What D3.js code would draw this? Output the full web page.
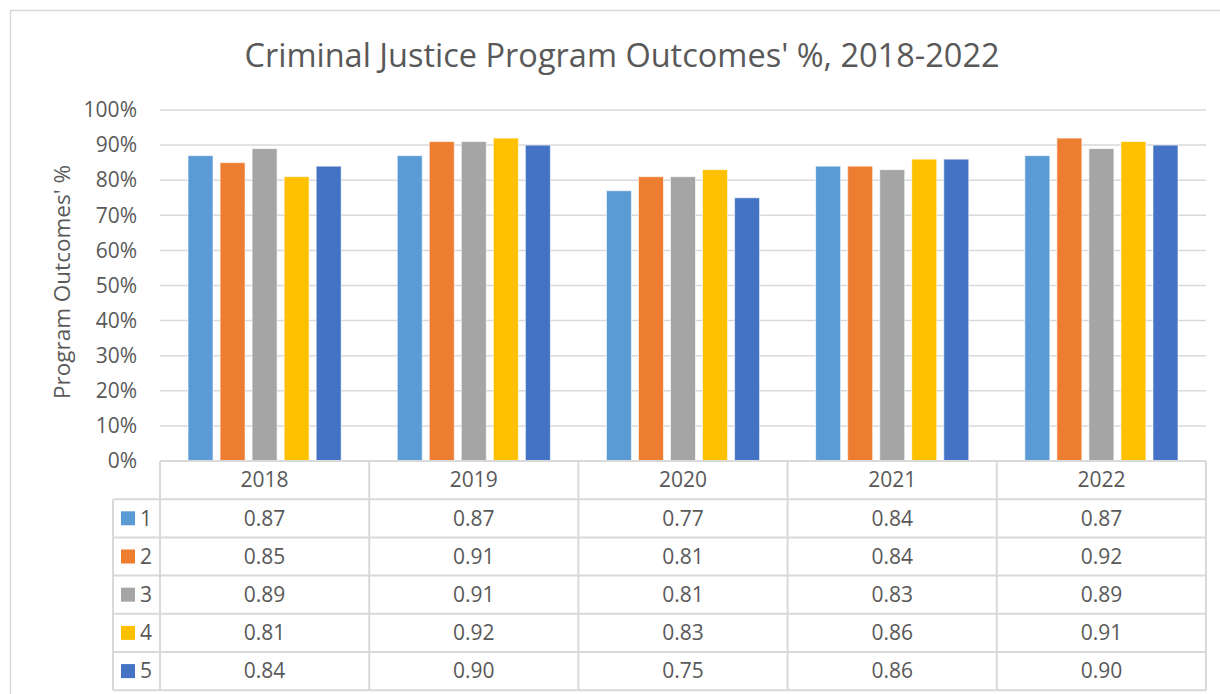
<!DOCTYPE html>
<html>
<head>
<meta charset="utf-8">
<script src="https://cdn.jsdelivr.net/npm/d3@7"></script>
<style>
  body { margin: 0; background: #fff; }
  svg { font-family: "Open Sans", "Noto Sans", sans-serif; }
</style>
</head>
<body>
<div id="chart"></div>
<script>
// data
const years = ["2018", "2019", "2020", "2021", "2022"];
const seriesNames = ["1", "2", "3", "4", "5"];
const s1 = [0.87, 0.87, 0.77, 0.84, 0.87];
const s2 = [0.85, 0.91, 0.81, 0.84, 0.92];
const s3 = [0.89, 0.91, 0.81, 0.83, 0.89];
const s4 = [0.81, 0.92, 0.83, 0.86, 0.91];
const s5 = [0.84, 0.90, 0.75, 0.86, 0.90];
const yTicks = [0, 0.1, 0.2, 0.3, 0.4, 0.5, 0.6, 0.7, 0.8, 0.9, 1.0];
const colors = ["#5B9BD5", "#ED7D31", "#A5A5A5", "#FFC000", "#4472C4"];

const series = [s1, s2, s3, s4, s5];

const W = 1220, H = 694;
const plot = { left: 160, right: 1206, top: 110, bottom: 461 };
const rowH = 38.2;
const legendLeft = 113;
const textColor = "#595959";
const lineColor = "#d9d9d9";
const fs = "21px";

const svg = d3.select("#chart")
    .append("svg")
    .attr("width", W)
    .attr("height", H);

// outer frame
svg.append("rect")
    .attr("x", 10.5).attr("y", 10.5)
    .attr("width", W + 20).attr("height", H + 20)
    .attr("fill", "#fff")
    .attr("stroke", lineColor)
    .attr("stroke-width", 1.5);

// scales
const x0 = d3.scaleBand()
    .domain(years)
    .range([plot.left, plot.right])
    .padding(0);

const x1 = d3.scaleBand()
    .domain(seriesNames)
    .range([0, x0.bandwidth()])
    .paddingInner(0.22)
    .paddingOuter(0.875);

const y = d3.scaleLinear()
    .domain([0, 1])
    .range([plot.bottom, plot.top]);

// gridlines
svg.append("g")
    .selectAll("line")
    .data(yTicks.filter(d => d > 0))
    .join("line")
    .attr("x1", plot.left)
    .attr("x2", plot.right)
    .attr("y1", d => y(d))
    .attr("y2", d => y(d))
    .attr("stroke", lineColor)
    .attr("stroke-width", 1.5);

// y axis tick labels
const yAxis = svg.append("g")
    .attr("transform", `translate(${plot.left - 23},0)`)
    .call(d3.axisLeft(y).tickValues(yTicks).tickFormat(d3.format(".0%")).tickSize(0).tickPadding(0));
yAxis.select(".domain").remove();
yAxis.selectAll("text")
    .attr("fill", textColor)
    .style("font-size", fs)
    .style("font-family", "'Open Sans', sans-serif");

// bars
const groups = svg.append("g")
    .selectAll("g")
    .data(years)
    .join("g")
    .attr("transform", d => `translate(${x0(d)},0)`);

groups.selectAll("rect")
    .data((yr, i) => series.map((s, k) => ({ name: seriesNames[k], value: s[i], color: colors[k] })))
    .join("rect")
    .attr("x", d => x1(d.name))
    .attr("width", x1.bandwidth())
    .attr("y", d => y(d.value))
    .attr("height", d => y(0) - y(d.value))
    .attr("fill", d => d.color)
    .attr("stroke", "#fff")
    .attr("stroke-opacity", 0.6)
    .attr("stroke-width", 1);

// data table
const table = svg.append("g");
const tableBottom = plot.bottom + rowH * 6;

// horizontal lines
table.append("line")
    .attr("x1", plot.left).attr("x2", plot.right)
    .attr("y1", plot.bottom).attr("y2", plot.bottom)
    .attr("stroke", lineColor).attr("stroke-width", 2);
d3.range(1, 7).forEach(r => {
    table.append("line")
        .attr("x1", legendLeft).attr("x2", plot.right)
        .attr("y1", plot.bottom + rowH * r).attr("y2", plot.bottom + rowH * r)
        .attr("stroke", lineColor).attr("stroke-width", 2);
});

// vertical lines
years.forEach(yr => {
    table.append("line")
        .attr("x1", x0(yr)).attr("x2", x0(yr))
        .attr("y1", plot.bottom).attr("y2", tableBottom)
        .attr("stroke", lineColor).attr("stroke-width", 2);
});
table.append("line")
    .attr("x1", plot.right).attr("x2", plot.right)
    .attr("y1", plot.bottom).attr("y2", tableBottom)
    .attr("stroke", lineColor).attr("stroke-width", 2);
table.append("line")
    .attr("x1", legendLeft).attr("x2", legendLeft)
    .attr("y1", plot.bottom + rowH).attr("y2", tableBottom)
    .attr("stroke", lineColor).attr("stroke-width", 2);

// header years
table.selectAll(".yr")
    .data(years)
    .join("text")
    .attr("class", "yr")
    .attr("x", d => x0(d) + x0.bandwidth() / 2)
    .attr("y", plot.bottom + rowH / 2)
    .attr("dy", "0.35em")
    .attr("text-anchor", "middle")
    .attr("fill", textColor)
    .style("font-size", fs)
    .text(d => d);

// rows
series.forEach((s, k) => {
    const cy = plot.bottom + rowH * (k + 1) + rowH / 2;
    table.append("rect")
        .attr("x", legendLeft + 8)
        .attr("y", cy - 7)
        .attr("width", 14)
        .attr("height", 14)
        .attr("fill", colors[k]);
    table.append("text")
        .attr("x", legendLeft + 27)
        .attr("y", cy)
        .attr("dy", "0.35em")
        .attr("fill", textColor)
        .style("font-size", fs)
        .text(seriesNames[k]);
    table.selectAll(".v" + k)
        .data(s)
        .join("text")
        .attr("class", "v" + k)
        .attr("x", (d, i) => x0(years[i]) + x0.bandwidth() / 2)
        .attr("y", cy)
        .attr("dy", "0.35em")
        .attr("text-anchor", "middle")
        .attr("fill", textColor)
        .style("font-size", fs)
        .text(d => d3.format(".2f")(d));
});

// title
svg.append("text")
    .attr("x", 622)
    .attr("y", 67)
    .attr("text-anchor", "middle")
    .attr("fill", textColor)
    .style("font-size", "32.5px")
    .text("Criminal Justice Program Outcomes' %, 2018-2022");

// y axis title
svg.append("text")
    .attr("transform", `translate(70,282) rotate(-90)`)
    .attr("text-anchor", "middle")
    .attr("fill", textColor)
    .style("font-size", "22.5px")
    .text("Program Outcomes' %");
</script>
</body>
</html>
